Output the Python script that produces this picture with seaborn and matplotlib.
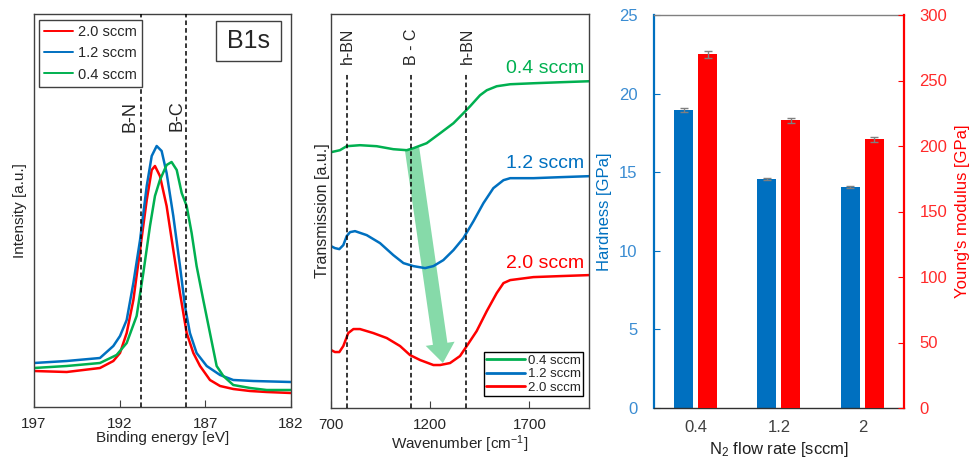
import numpy as np
import matplotlib
matplotlib.use("Agg")
import matplotlib.pyplot as plt
from matplotlib.lines import Line2D
from matplotlib.patches import Rectangle
import seaborn as sns

# ---------------- data ----------------
# Panel 1: XPS B1s
xps_labels = ["2.0 sccm", "1.2 sccm", "0.4 sccm"]
E_red = [197.0, 195.09, 193.15, 192.37, 191.98, 191.59, 191.20, 190.81, 190.42, 190.13, 189.94, 189.65,
         189.26, 188.87, 188.48, 188.09, 187.70, 187.31, 186.73, 186.14, 185.37, 184.39, 183.42, 182.0]
I_red = [36, 35, 39, 46, 54, 74, 107, 157, 207, 237, 241, 231, 201, 157, 114, 74, 54, 41, 27, 21, 18, 16, 15, 14]
E_blue = [197.0, 195.09, 193.15, 192.37, 191.98, 191.59, 191.20, 190.81, 190.42, 190.13, 189.84, 189.55,
          189.26, 188.87, 188.48, 188.19, 187.90, 187.51, 186.92, 186.14, 185.37, 184.20, 182.0]
I_blue = [44, 46, 49, 61, 71, 87, 124, 167, 221, 251, 261, 256, 234, 191, 141, 101, 74, 54, 41, 32, 27, 26, 25]
E_green = [197.0, 195.09, 193.15, 192.18, 191.59, 191.01, 190.62, 190.23, 189.94, 189.65, 189.26, 188.97,
           188.67, 188.38, 188.09, 187.80, 187.51, 187.12, 186.73, 186.34, 185.95, 185.37, 184.39, 183.42, 182.0]
I_green = [39, 41, 44, 52, 64, 91, 134, 181, 211, 227, 242, 245, 237, 214, 201, 174, 141, 107, 74, 41,
           31, 22, 19, 17, 17]
xps_peaks = [190.75, 188.1]
xps_peak_labels = ["B-N", "B-C"]

# Panel 2: FTIR
ir_labels = ["0.4 sccm", "1.2 sccm", "2.0 sccm"]
wn_green = [700, 745, 779, 846, 930, 1014, 1082, 1115, 1182, 1250, 1317, 1367, 1401, 1451, 1485, 1535,
            1603, 1720, 1855, 2000]
T_green = [256, 258, 262, 263, 262, 259, 258, 260, 265, 275, 285, 295, 302, 313, 318, 322, 324, 325, 326, 327]
wn_blue = [700, 720, 742, 762, 779, 796, 821, 880, 947, 1014, 1065, 1115, 1174, 1216, 1266, 1317, 1367,
           1418, 1468, 1518, 1569, 1603, 1720, 1855, 2000]
T_blue = [162, 160, 159, 163, 172, 176, 177, 173, 165, 153, 145, 142, 140, 142, 148, 158, 170, 187, 205,
          220, 228, 230, 230, 231, 232]
wn_red = [700, 720, 742, 762, 787, 813, 846, 913, 981, 1048, 1098, 1149, 1216, 1250, 1300, 1350, 1384,
          1434, 1485, 1535, 1569, 1603, 1720, 1855, 2000]
T_red = [58, 56, 56, 62, 75, 79, 79, 75, 70, 62, 53, 48, 43, 43, 45, 52, 62, 77, 97, 115, 125, 128, 131, 132, 133]
ir_peaks = [779, 1102, 1381]
ir_peak_labels = ["h-BN", "B - C", "h-BN"]

# Panel 3: mechanical properties
flow_labels = ["0.4", "1.2", "2"]
hardness = [18.95, 14.55, 14.05]
hardness_err = [0.14, 0.06, 0.05]
modulus = [270.0, 219.5, 205.0]
modulus_err = [2.5, 2.2, 1.7]

# ---------------- style ----------------
sns.set_style("ticks")
plt.rcParams['font.family'] = ['Liberation Sans', 'DejaVu Sans']
plt.rcParams['mathtext.fontset'] = 'custom'
plt.rcParams['mathtext.rm'] = 'Liberation Sans'
plt.rcParams['mathtext.it'] = 'Liberation Sans'

RED = "#FF0000"
BLUE = "#0070C0"
GREEN = "#00B050"
SPINE = "#404040"

fig = plt.figure(figsize=(9.7, 4.62), dpi=100)
W, H = 970, 462

# ---------------- Panel 1 ----------------
ax1 = fig.add_axes([34 / W, 1 - 407 / H, 257 / W, 393 / H])
for E, I, c in [(E_red, I_red, RED), (E_blue, I_blue, BLUE), (E_green, I_green, GREEN)]:
    sns.lineplot(x=E, y=I, color=c, lw=1.8, ax=ax1, sort=False, estimator=None, legend=False)
for xp in xps_peaks:
    ax1.axvline(xp, ls=(0, (3, 2)), color='black', lw=1.1, zorder=3)
ax1.text(191.4, 291, xps_peak_labels[0], rotation=90, ha='center', va='center', fontsize=13)
ax1.text(188.65, 291, xps_peak_labels[1], rotation=90, ha='center', va='center', fontsize=13)
ax1.set_xlim(197, 182)
ax1.set_ylim(0, 393)
ax1.set_xticks([197, 192, 187, 182])
ax1.set_yticks([])
ax1.tick_params(axis='x', direction='in', length=5, labelsize=11, pad=7, color=SPINE)
for s in ax1.spines.values():
    s.set_color(SPINE)
    s.set_linewidth(1.0)
ax1.set_xlabel("Binding energy [eV]", fontsize=11, labelpad=0)
ax1.set_ylabel("Intensity [a.u.]", fontsize=11, labelpad=5)
ax1.add_patch(Rectangle((0.708, 0.880), 0.253, 0.102, transform=ax1.transAxes, fc='white',
                        ec=SPINE, lw=1.0, zorder=4))
ax1.text(0.708 + 0.253 / 2, 0.880 + 0.051, "B1s", transform=ax1.transAxes, ha='center', va='center',
         fontsize=18, zorder=5)
h1 = [Line2D([], [], color=c, lw=1.4) for c in (RED, BLUE, GREEN)]
leg1 = ax1.legend(h1, xps_labels, loc='upper left', bbox_to_anchor=(0.019, 0.985), borderaxespad=0,
                  fontsize=10.5, handlelength=2.0, handletextpad=0.3, borderpad=0.35, labelspacing=0.5,
                  frameon=True, fancybox=False, edgecolor=SPINE, framealpha=1)
leg1.get_frame().set_linewidth(1.0)

# ---------------- Panel 2 ----------------
ax2 = fig.add_axes([331 / W, 1 - 408 / H, 258 / W, 394 / H])
ax2.annotate('', xy=(1264, 45), xytext=(1108, 260),
             arrowprops=dict(arrowstyle='simple,head_length=1.4,head_width=2.1,tail_width=1.05',
                             mutation_scale=10, fc='#86DAA9', ec='none', shrinkA=0, shrinkB=0),
             zorder=1)
for wn, T, c in [(wn_green, T_green, GREEN), (wn_blue, T_blue, BLUE), (wn_red, T_red, RED)]:
    sns.lineplot(x=wn, y=T, color=c, lw=1.8, ax=ax2, sort=False, estimator=None, legend=False, zorder=2)
ax2.vlines(ir_peaks, 0, 336, colors='black', linestyles=(0, (3, 2)), lw=1.1, zorder=3)
for xp, lab in zip(ir_peaks, ir_peak_labels):
    ax2.text(xp + 4, 362, lab, rotation=90, ha='center', va='center', fontsize=11.5)
ax2.text(1975, 340, ir_labels[0], color=GREEN, ha='right', va='center', fontsize=14)
ax2.text(1975, 245, ir_labels[1], color=BLUE, ha='right', va='center', fontsize=14)
ax2.text(1975, 145, ir_labels[2], color=RED, ha='right', va='center', fontsize=14)
ax2.set_xlim(700, 2000)
ax2.set_ylim(0, 394.3)
ax2.set_xticks([700, 1200, 1700])
ax2.set_yticks([])
ax2.tick_params(axis='x', direction='in', length=5, labelsize=11, pad=7, color=SPINE)
for s in ax2.spines.values():
    s.set_color(SPINE)
    s.set_linewidth(1.0)
ax2.set_xlabel("Wavenumber [cm$^{-1}$]", fontsize=11, labelpad=1)
ax2.set_ylabel("Transmission [a.u.]", fontsize=11.5, labelpad=1)
h2 = [Line2D([], [], color=c, lw=2) for c in (GREEN, BLUE, RED)]
leg2 = ax2.legend(h2, ir_labels, loc='lower right', bbox_to_anchor=(0.977, 0.031), borderaxespad=0,
                  fontsize=9.5, handlelength=3.0, handletextpad=0.2, borderpad=0.15, labelspacing=0.1,
                  frameon=True, fancybox=False, edgecolor='black', framealpha=1)
leg2.get_frame().set_linewidth(1.0)

# ---------------- Panel 3 ----------------
ax3 = fig.add_axes([654 / W, 1 - 408 / H, 250 / W, 393 / H])
ax3r = ax3.twinx()
idx = np.arange(len(flow_labels))
xb = idx - 0.145
xr = idx + 0.143
sns.barplot(x=xb, y=hardness, native_scale=True, width=0.228, color=BLUE, saturation=1,
            linewidth=0, errorbar=None, ax=ax3)
sns.barplot(x=xr, y=modulus, native_scale=True, width=0.228, color=RED, saturation=1,
            linewidth=0, errorbar=None, ax=ax3r)
ax3.errorbar(xb, hardness, yerr=hardness_err, fmt='none', ecolor='#7F7F7F', capsize=3,
             elinewidth=1, capthick=1)
ax3r.errorbar(xr, modulus, yerr=modulus_err, fmt='none', ecolor='#7F7F7F', capsize=3,
              elinewidth=1, capthick=1)
ax3.set_xlim(-0.5, 2.5)
ax3.set_ylim(0, 25)
ax3r.set_ylim(0, 300)
ax3.set_xticks(idx)
ax3.set_xticklabels(flow_labels)
ax3.set_yticks([0, 5, 10, 15, 20, 25])
ax3r.set_yticks([0, 50, 100, 150, 200, 250, 300])
ax3.tick_params(axis='x', length=0, labelsize=12, pad=9, labelcolor='#404040')
ax3.tick_params(axis='y', direction='in', length=4, color=BLUE, labelcolor='#3A8CD2', labelsize=12, pad=12)
ax3r.tick_params(axis='y', direction='in', length=4, color=RED, labelcolor='#FF2A2A', labelsize=12, pad=11)
ax3.spines['right'].set_visible(False)
ax3.spines['left'].set_color(BLUE)
ax3.spines['left'].set_linewidth(1.6)
ax3.spines['top'].set_color('#808080')
ax3.spines['top'].set_linewidth(1.0)
ax3.spines['bottom'].set_color('#303030')
ax3.spines['bottom'].set_linewidth(1.0)
for k in ('left', 'top', 'bottom'):
    ax3r.spines[k].set_visible(False)
ax3r.spines['right'].set_color(RED)
ax3r.spines['right'].set_linewidth(1.6)
ax3.set_xlabel("N$_2$ flow rate [sccm]", fontsize=12, labelpad=3, color='#202020')
ax3.set_ylabel("Hardness [GPa]", fontsize=12, color=BLUE, labelpad=5)
ax3r.set_ylabel("Young's modulus [GPa]", fontsize=12, color=RED, labelpad=6)

fig.savefig("out.png", dpi=100)
